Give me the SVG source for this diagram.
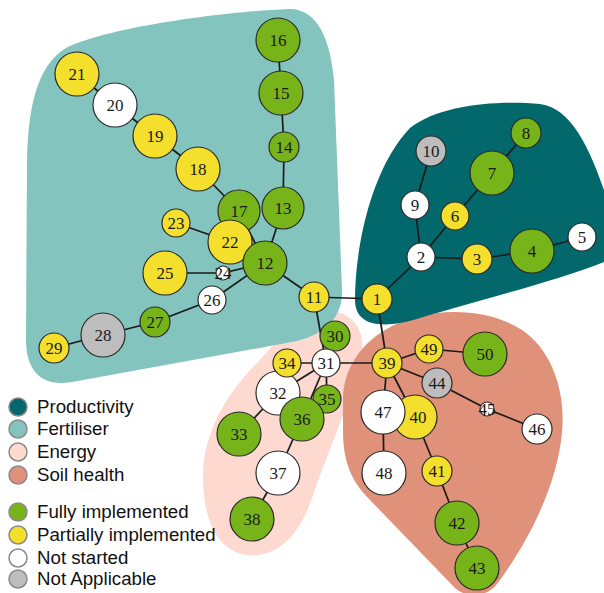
<svg xmlns="http://www.w3.org/2000/svg" width="604" height="593" viewBox="0 0 604 593">
<style>
.bg{fill:#fff}
.fert{fill:#83c4bf}
.prod{fill:#02686c}
.ener{fill:#fdd9d0}
.soil{fill:#e0917a}
.edge{stroke:#1a1a1a;stroke-width:1.7;fill:none}
.node circle{stroke:#2a2a2a;stroke-width:1.2}
.g circle{fill:#77b41a}
.y circle{fill:#f3df2c}
.w circle{fill:#ffffff}
.n circle{fill:#bdbdbd}
.node text{font-family:"Liberation Serif","Times New Roman",serif;font-size:17px;fill:#1a1a1a;text-anchor:middle;dominant-baseline:central}
.leg circle{stroke:#8a8a8a;stroke-width:1.5}
.leg text{font-family:"Liberation Sans",Arial,sans-serif;font-size:18.7px;fill:#111}
</style>
<rect class="bg" x="0" y="0" width="604" height="593"/>
<g id="groups">
<path id="energy-area" class="ener" d="M317,313 C345,305 366,325 362,352 C357,388 332,440 312,498 C297,542 272,558 247,555 C217,551 204,520 203,480 C202,432 228,392 258,362 C280,337 300,318 317,313 Z"/>
<path id="soil-area" class="soil" d="M385,330 C420,308 482,304 522,330 C552,350 566,392 562,432 C558,482 530,540 497,584 C486,598 466,598 455,588 L370,500 C350,480 343,460 343,430 L343,400 C343,370 360,345 385,330 Z"/>
<path id="fertiliser-area" class="fert" d="M66,48 C105,28 220,12 288,9 C318,8 330,40 334,80 L342,290 C343,320 322,336 292,342 L72,382 C42,387 27,372 26,342 L27,160 C28,110 36,66 66,48 Z"/>
<path id="productivity-area" class="prod" d="M410,128 C440,104 500,100 540,104 C572,108 590,150 604,190 L604,262 C560,280 480,300 420,318 C382,330 355,326 355,300 C355,250 370,170 410,128 Z"/>
</g>
<g id="connectors">
<line class="edge" x1="377" y1="299" x2="314" y2="297"/>
<line class="edge" x1="377" y1="299" x2="421" y2="257"/>
<line class="edge" x1="377" y1="299" x2="387" y2="363"/>
<line class="edge" x1="421" y1="257" x2="415" y2="205"/>
<line class="edge" x1="415" y1="205" x2="431" y2="151"/>
<line class="edge" x1="421" y1="257" x2="455" y2="216"/>
<line class="edge" x1="455" y1="216" x2="492" y2="173"/>
<line class="edge" x1="492" y1="173" x2="526" y2="133"/>
<line class="edge" x1="421" y1="257" x2="477" y2="259"/>
<line class="edge" x1="477" y1="259" x2="532" y2="251"/>
<line class="edge" x1="532" y1="251" x2="582" y2="237"/>
<line class="edge" x1="314" y1="297" x2="265" y2="263"/>
<line class="edge" x1="314" y1="297" x2="326" y2="363"/>
<line class="edge" x1="265" y1="263" x2="283" y2="208"/>
<line class="edge" x1="283" y1="208" x2="284" y2="147"/>
<line class="edge" x1="284" y1="147" x2="281" y2="93"/>
<line class="edge" x1="281" y1="93" x2="278" y2="40"/>
<line class="edge" x1="265" y1="263" x2="239" y2="211"/>
<line class="edge" x1="239" y1="211" x2="198" y2="169"/>
<line class="edge" x1="198" y1="169" x2="155" y2="136"/>
<line class="edge" x1="155" y1="136" x2="115" y2="105"/>
<line class="edge" x1="115" y1="105" x2="77" y2="74"/>
<line class="edge" x1="265" y1="263" x2="230" y2="242"/>
<line class="edge" x1="230" y1="242" x2="176" y2="223"/>
<line class="edge" x1="265" y1="263" x2="223" y2="273"/>
<line class="edge" x1="223" y1="273" x2="165" y2="273"/>
<line class="edge" x1="265" y1="263" x2="212" y2="300"/>
<line class="edge" x1="212" y1="300" x2="155" y2="322"/>
<line class="edge" x1="155" y1="322" x2="103" y2="335"/>
<line class="edge" x1="103" y1="335" x2="54" y2="348"/>
<line class="edge" x1="326" y1="363" x2="335" y2="336"/>
<line class="edge" x1="326" y1="363" x2="287" y2="363"/>
<line class="edge" x1="326" y1="363" x2="278" y2="393"/>
<line class="edge" x1="326" y1="363" x2="327" y2="399"/>
<line class="edge" x1="326" y1="363" x2="302" y2="419"/>
<line class="edge" x1="278" y1="393" x2="239" y2="434"/>
<line class="edge" x1="302" y1="419" x2="278" y2="473"/>
<line class="edge" x1="278" y1="473" x2="252" y2="519"/>
<line class="edge" x1="326" y1="363" x2="387" y2="363"/>
<line class="edge" x1="387" y1="363" x2="429" y2="349"/>
<line class="edge" x1="429" y1="349" x2="485" y2="354"/>
<line class="edge" x1="387" y1="363" x2="437" y2="383"/>
<line class="edge" x1="437" y1="383" x2="487" y2="409"/>
<line class="edge" x1="487" y1="409" x2="537" y2="429"/>
<line class="edge" x1="387" y1="363" x2="383" y2="412"/>
<line class="edge" x1="383" y1="412" x2="384" y2="473"/>
<line class="edge" x1="387" y1="363" x2="415" y2="417"/>
<line class="edge" x1="415" y1="417" x2="437" y2="471"/>
<line class="edge" x1="437" y1="471" x2="457" y2="523"/>
<line class="edge" x1="457" y1="523" x2="477" y2="568"/>
</g>
<g id="nodes">
<g id="n1" class="node y"><circle cx="377" cy="299" r="15"/><text x="377" y="299">1</text></g>
<g id="n2" class="node w"><circle cx="421" cy="257" r="14"/><text x="421" y="257">2</text></g>
<g id="n3" class="node y"><circle cx="477" cy="259" r="15"/><text x="477" y="259">3</text></g>
<g id="n4" class="node g"><circle cx="532" cy="251" r="22"/><text x="532" y="251">4</text></g>
<g id="n5" class="node w"><circle cx="582" cy="237" r="14"/><text x="582" y="237">5</text></g>
<g id="n6" class="node y"><circle cx="455" cy="216" r="14"/><text x="455" y="216">6</text></g>
<g id="n7" class="node g"><circle cx="492" cy="173" r="22"/><text x="492" y="173">7</text></g>
<g id="n8" class="node g"><circle cx="526" cy="133" r="15"/><text x="526" y="133">8</text></g>
<g id="n9" class="node w"><circle cx="415" cy="205" r="14"/><text x="415" y="205">9</text></g>
<g id="n10" class="node n"><circle cx="431" cy="151" r="15"/><text x="431" y="151">10</text></g>
<g id="n11" class="node y"><circle cx="314" cy="297" r="15"/><text x="314" y="297">11</text></g>
<g id="n13" class="node g"><circle cx="283" cy="208" r="21"/><text x="283" y="208">13</text></g>
<g id="n14" class="node g"><circle cx="284" cy="147" r="15"/><text x="284" y="147">14</text></g>
<g id="n15" class="node g"><circle cx="281" cy="93" r="22"/><text x="281" y="93">15</text></g>
<g id="n16" class="node g"><circle cx="278" cy="40" r="22"/><text x="278" y="40">16</text></g>
<g id="n17" class="node g"><circle cx="239" cy="211" r="21"/><text x="239" y="211">17</text></g>
<g id="n18" class="node y"><circle cx="198" cy="169" r="22"/><text x="198" y="169">18</text></g>
<g id="n19" class="node y"><circle cx="155" cy="136" r="22"/><text x="155" y="136">19</text></g>
<g id="n20" class="node w"><circle cx="115" cy="105" r="22"/><text x="115" y="105">20</text></g>
<g id="n21" class="node y"><circle cx="77" cy="74" r="22"/><text x="77" y="74">21</text></g>
<g id="n22" class="node y"><circle cx="230" cy="242" r="22"/><text x="230" y="242">22</text></g>
<g id="n12" class="node g"><circle cx="265" cy="263" r="22"/><text x="265" y="263">12</text></g>
<g id="n23" class="node y"><circle cx="176" cy="223" r="14"/><text x="176" y="223">23</text></g>
<g id="n24" class="node w"><circle cx="223" cy="273" r="7"/><text x="223" y="273">24</text></g>
<g id="n25" class="node y"><circle cx="165" cy="273" r="22"/><text x="165" y="273">25</text></g>
<g id="n26" class="node w"><circle cx="212" cy="300" r="14"/><text x="212" y="300">26</text></g>
<g id="n27" class="node g"><circle cx="155" cy="322" r="15"/><text x="155" y="322">27</text></g>
<g id="n28" class="node n"><circle cx="103" cy="335" r="22"/><text x="103" y="335">28</text></g>
<g id="n29" class="node y"><circle cx="54" cy="348" r="15"/><text x="54" y="348">29</text></g>
<g id="n30" class="node g"><circle cx="335" cy="336" r="15"/><text x="335" y="336">30</text></g>
<g id="n31" class="node w"><circle cx="326" cy="363" r="14"/><text x="326" y="363">31</text></g>
<g id="n32" class="node w"><circle cx="278" cy="393" r="22"/><text x="278" y="393">32</text></g>
<g id="n33" class="node g"><circle cx="239" cy="434" r="22"/><text x="239" y="434">33</text></g>
<g id="n34" class="node y"><circle cx="287" cy="363" r="14"/><text x="287" y="363">34</text></g>
<g id="n35" class="node g"><circle cx="327" cy="399" r="14"/><text x="327" y="399">35</text></g>
<g id="n36" class="node g"><circle cx="302" cy="419" r="22"/><text x="302" y="419">36</text></g>
<g id="n37" class="node w"><circle cx="278" cy="473" r="22"/><text x="278" y="473">37</text></g>
<g id="n38" class="node g"><circle cx="252" cy="519" r="22"/><text x="252" y="519">38</text></g>
<g id="n39" class="node y"><circle cx="387" cy="363" r="15"/><text x="387" y="363">39</text></g>
<g id="n40" class="node y"><circle cx="415" cy="417" r="22"/><text x="418" y="417">40</text></g>
<g id="n41" class="node y"><circle cx="437" cy="471" r="15"/><text x="437" y="471">41</text></g>
<g id="n42" class="node g"><circle cx="457" cy="523" r="22"/><text x="457" y="523">42</text></g>
<g id="n43" class="node g"><circle cx="477" cy="568" r="22"/><text x="477" y="568">43</text></g>
<g id="n44" class="node n"><circle cx="437" cy="383" r="15"/><text x="437" y="383">44</text></g>
<g id="n45" class="node w"><circle cx="487" cy="409" r="7"/><text x="487" y="409">45</text></g>
<g id="n46" class="node w"><circle cx="537" cy="429" r="15"/><text x="537" y="429">46</text></g>
<g id="n47" class="node w"><circle cx="383" cy="412" r="22"/><text x="383" y="412">47</text></g>
<g id="n48" class="node w"><circle cx="384" cy="473" r="22"/><text x="384" y="473">48</text></g>
<g id="n49" class="node y"><circle cx="429" cy="349" r="14"/><text x="429" y="349">49</text></g>
<g id="n50" class="node g"><circle cx="485" cy="354" r="22"/><text x="485" y="354">50</text></g>
</g>
<g id="legend" class="leg">
<circle cx="18" cy="407" r="9" fill="#02686c"/><text x="37" y="413">Productivity</text>
<circle cx="18" cy="429" r="9" fill="#83c4bf"/><text x="37" y="435">Fertiliser</text>
<circle cx="18" cy="452" r="9" fill="#fdd9d0"/><text x="37" y="458">Energy</text>
<circle cx="18" cy="475" r="9" fill="#e0917a"/><text x="37" y="481">Soil health</text>
<circle cx="18" cy="512" r="9" fill="#77b41a"/><text x="37" y="518">Fully implemented</text>
<circle cx="18" cy="535" r="9" fill="#f3df2c"/><text x="37" y="541">Partially implemented</text>
<circle cx="18" cy="558" r="9" fill="#ffffff"/><text x="37" y="564">Not started</text>
<circle cx="18" cy="579" r="9" fill="#bdbdbd"/><text x="37" y="585">Not Applicable</text>
</g>
</svg>
